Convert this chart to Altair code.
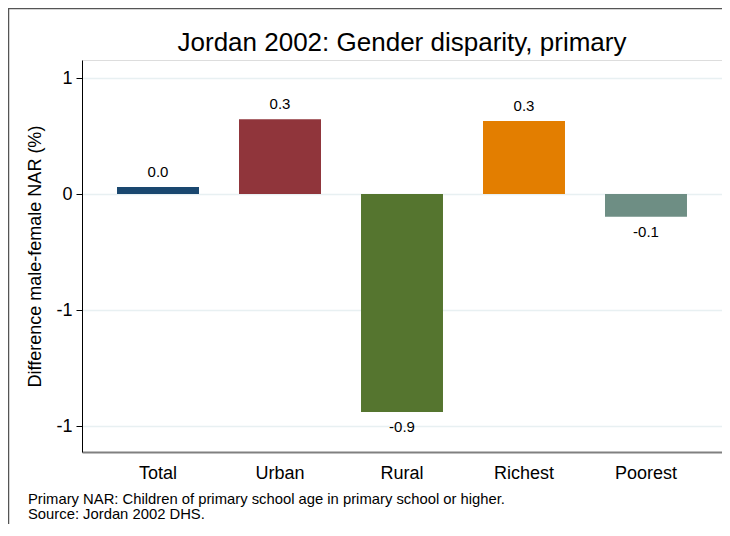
import altair as alt
import pandas as pd

categories = ["Total", "Urban", "Rural", "Richest", "Poorest"]
values = [0.03, 0.323, -0.94, 0.315, -0.098]
colors = ["#1a476f", "#90353b", "#55752f", "#e37e00", "#6e8e84"]
tick_values = [0.5, 0, -0.5, -1]
tick_labels = ["1", "0", "-1", "-1"]
notes = ["Primary NAR: Children of primary school age in primary school or higher.",
         "Source: Jordan 2002 DHS."]

FONT = "Liberation Sans"

df = pd.DataFrame({"cat": categories, "v": values,
                   "lab": [f"{v:.1f}" for v in values]})

label_expr = " : ".join(
    f"datum.value == {tv} ? '{tl}'" for tv, tl in zip(tick_values, tick_labels)
) + " : ''"

x = alt.X("cat:N", sort=categories, title=None,
          scale=alt.Scale(paddingInner=0.328, paddingOuter=0.287),
          axis=alt.Axis(labelAngle=0, ticks=False, labelPadding=12,
                        labelFontSize=18, labelFont=FONT, labelColor="#000",
                        domainColor="#808080", domainWidth=2, grid=False))
y = alt.Y("v:Q", title="Difference male-female NAR (%)",
          scale=alt.Scale(domain=[-1.112, 0.578], nice=False, zero=False),
          axis=alt.Axis(values=tick_values, labelExpr=label_expr,
                        labelFontSize=18, labelFont=FONT, labelColor="#000",
                        tickSize=6, tickColor="#000", domainColor="#000",
                        grid=True, gridColor="#e8f0f2", gridWidth=1.5,
                        titleFont=FONT, titleFontSize=18, titleFontWeight="normal",
                        titleColor="#000", titleX=-47, titleY=196, titleAngle=-90,
                        titleAlign="center", titleBaseline="middle", labelPadding=4))

base = alt.Chart(df)
bars = base.mark_bar().encode(
    x=x, y=y,
    color=alt.Color("cat:N", scale=alt.Scale(domain=categories, range=colors), legend=None),
)
pos = base.transform_filter("datum.v >= 0").mark_text(
    baseline="bottom", dy=-7, fontSize=15, font=FONT, color="#000"
).encode(x=alt.X("cat:N", sort=categories), y="v:Q", text="lab:N")
neg = base.transform_filter("datum.v < 0").mark_text(
    baseline="top", dy=8, fontSize=15, font=FONT, color="#000"
).encode(x=alt.X("cat:N", sort=categories), y="v:Q", text="lab:N")

note_df = pd.DataFrame({"t": ["\n".join(notes)]})
note = alt.Chart(note_df).mark_text(
    align="left", baseline="top", fontSize=14.8, font=FONT, color="#000",
    lineBreak="\n", lineHeight=14.5
).encode(x=alt.value(-54), y=alt.value(432), text="t:N")

title_df = pd.DataFrame({"t": ["Jordan 2002: Gender disparity, primary"]})
title = alt.Chart(title_df).mark_text(
    align="center", baseline="alphabetic", fontSize=26, font=FONT, color="#000"
).encode(x=alt.value(320), y=alt.value(-9), text="t:N")

frame = alt.Chart(note_df).mark_rect(
    fill="transparent", stroke="#555555", strokeWidth=1.5
).encode(x=alt.value(-73.5), x2=alt.value(700), y=alt.value(-51.5), y2=alt.value(600))

chart = alt.layer(bars, pos, neg, note, title, frame).properties(
    width=640, height=392,
    autosize=alt.AutoSizeParams(type="none"),
    padding={"left": 74, "top": 52, "right": 0, "bottom": 72},
).configure_view(stroke=None).configure(background="white")

chart.save("out.html", embed_options={"renderer": "svg", "actions": False})
